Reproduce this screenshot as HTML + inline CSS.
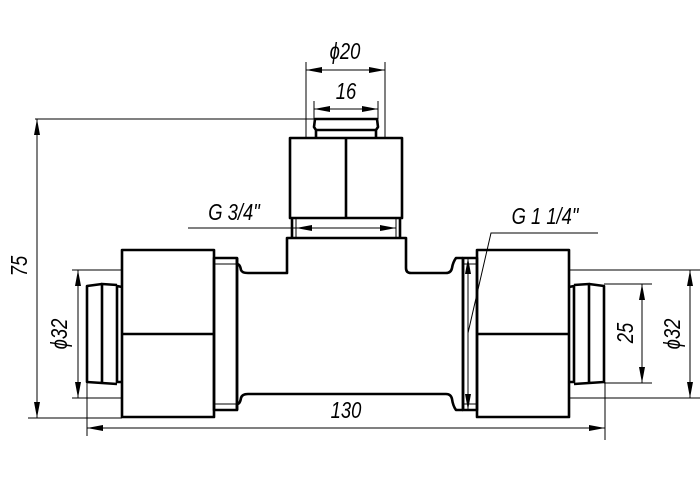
<!DOCTYPE html>
<html><head><meta charset="utf-8"><style>
html,body{margin:0;padding:0;background:#fff}
svg{display:block}
text{font-family:"Liberation Sans Narrow","Liberation Sans",sans-serif;font-style:italic;font-size:23px;fill:#000;font-weight:normal}
</style></head><body>
<svg width="700" height="500" viewBox="0 0 700 500" xmlns="http://www.w3.org/2000/svg">
<defs>
<marker id="a" viewBox="0 0 16 6" refX="16" refY="3" markerWidth="16" markerHeight="6" orient="auto-start-reverse" markerUnits="userSpaceOnUse"><path d="M0,0 L16,3 L0,6 Z" fill="#000"/></marker>
</defs>
<g fill="none" stroke="#000" stroke-width="2.6" stroke-linejoin="round">
<path d="M237,258 L237,264 Q240,264 241,270 Q242,273 248,273 L287,273 L287,238 L406,238 L406,268 Q406,273 411,273 L446,273 Q451,273 452,268 Q453,262 456,258 L463,258"/>
<path d="M237,410 L237,404 Q240,404 241,398 Q242,394 248,394 L446,394 Q451,394 452,399 Q453,406 456,410 L463,410"/>
<line x1="237" y1="258" x2="237" y2="410"/>
<line x1="463" y1="258" x2="463" y2="410"/>
<rect x="214" y="258" width="23" height="152"/>
<rect x="463" y="258" width="14" height="152"/>
<rect x="122" y="250" width="92" height="167"/>
<line x1="122" y1="334" x2="214" y2="334"/>
<rect x="477" y="250" width="92" height="167"/>
<line x1="477" y1="334" x2="569" y2="334"/>
<path d="M122,287 L117,286 L117,382 L122,382 M117,285 L102,284 L102,383 L117,384 M102,284 L87,286 L87,382 L102,383"/>
<path d="M569,287 L574,286 L574,382 L569,382 M574,285 L589,284 L589,383 L574,384 M589,284 L604,286 L604,382 L589,383"/>
<rect x="290" y="138" width="112" height="80"/>
<line x1="346" y1="138" x2="346" y2="218"/>
<path d="M292,218 L292,238 M400,218 L400,238"/>
<path d="M316,138 L316,130 L314,127 L315,119 L377,119 L378,127 L376,130 L376,138 M315,130 L377,130"/>
</g>
<g fill="none" stroke="#000" stroke-width="1">
<path d="M296,218 L296,238 M396,218 L396,238"/>
<path d="M214,264 L237,264 M214,404 L237,404 M463,264 L477,264 M463,404 L477,404"/>
<line x1="35" y1="119" x2="314" y2="119"/>
<line x1="28" y1="418" x2="122" y2="418"/>
<line x1="37" y1="119" x2="37" y2="418" marker-start="url(#a)" marker-end="url(#a)"/>
<line x1="72" y1="270" x2="122" y2="270"/>
<line x1="72" y1="398" x2="122" y2="398"/>
<line x1="78" y1="270" x2="78" y2="398" marker-start="url(#a)" marker-end="url(#a)"/>
<line x1="87" y1="382" x2="87" y2="436"/>
<line x1="605" y1="382" x2="605" y2="440"/>
<line x1="87" y1="428" x2="605" y2="428" marker-start="url(#a)" marker-end="url(#a)"/>
<line x1="306" y1="62" x2="306" y2="138"/>
<line x1="385" y1="62" x2="385" y2="138"/>
<line x1="306" y1="70" x2="385" y2="70" marker-start="url(#a)" marker-end="url(#a)"/>
<line x1="314" y1="101" x2="314" y2="119"/>
<line x1="378" y1="101" x2="378" y2="119"/>
<line x1="314" y1="109" x2="378" y2="109" marker-start="url(#a)" marker-end="url(#a)"/>
<line x1="188" y1="228" x2="296" y2="228"/>
<line x1="296" y1="228" x2="396" y2="228" marker-start="url(#a)" marker-end="url(#a)"/>
<path d="M598,233 L491,233 L468,333"/>
<line x1="468" y1="258" x2="468" y2="410" marker-start="url(#a)" marker-end="url(#a)"/>
<line x1="569" y1="270" x2="700" y2="270"/>
<line x1="569" y1="398" x2="700" y2="398"/>
<line x1="690" y1="270" x2="690" y2="398" marker-start="url(#a)" marker-end="url(#a)"/>
<line x1="604" y1="284" x2="652" y2="284"/>
<line x1="604" y1="383" x2="652" y2="383"/>
<line x1="642" y1="284" x2="642" y2="383" marker-start="url(#a)" marker-end="url(#a)"/>
</g>
<g transform="translate(345,59) scale(0.8,1)"><text text-anchor="middle">ϕ20</text></g>
<g transform="translate(346,99) scale(0.8,1)"><text text-anchor="middle">16</text></g>
<g transform="translate(234,220) scale(0.8,1)"><text text-anchor="middle">G 3/4"</text></g>
<g transform="translate(545,224) scale(0.8,1)"><text text-anchor="middle">G 1 1/4"</text></g>
<g transform="translate(346,418) scale(0.8,1)"><text text-anchor="middle">130</text></g>
<g transform="translate(27,266) rotate(-90) scale(0.8,1)"><text text-anchor="middle">75</text></g>
<g transform="translate(67,334) rotate(-90) scale(0.8,1)"><text text-anchor="middle">ϕ32</text></g>
<g transform="translate(633,333) rotate(-90) scale(0.8,1)"><text text-anchor="middle">25</text></g>
<g transform="translate(680,334) rotate(-90) scale(0.8,1)"><text text-anchor="middle">ϕ32</text></g>
</svg>
</body></html>
